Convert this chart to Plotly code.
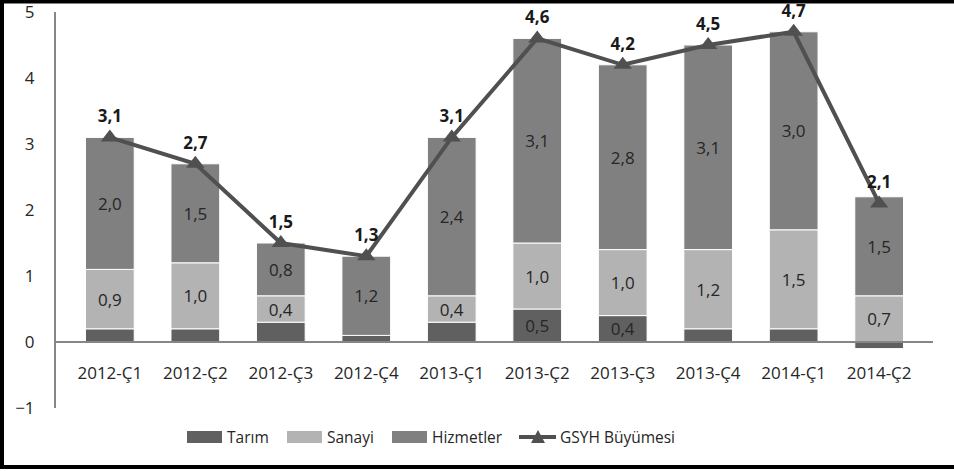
import plotly.graph_objects as go

categories = ["2012-Ç1", "2012-Ç2", "2012-Ç3", "2012-Ç4", "2013-Ç1",
              "2013-Ç2", "2013-Ç3", "2013-Ç4", "2014-Ç1", "2014-Ç2"]
tarim = [0.2, 0.2, 0.3, 0.1, 0.3, 0.5, 0.4, 0.2, 0.2, -0.1]
sanayi = [0.9, 1.0, 0.4, 0.0, 0.4, 1.0, 1.0, 1.2, 1.5, 0.7]
hizmetler = [2.0, 1.5, 0.8, 1.2, 2.4, 3.1, 2.8, 3.1, 3.0, 1.5]
gsyh = [3.1, 2.7, 1.5, 1.3, 3.1, 4.6, 4.2, 4.5, 4.7, 2.1]
y_ticks = [-1, 0, 1, 2, 3, 4, 5]

series_names = ["Tarım", "Sanayi", "Hizmetler", "GSYH Büyümesi"]
series_colors = ["#606060", "#b3b3b3", "#808080", "#505050"]

FONT = "Open Sans"
TXT = "#262626"

# plot area in pixels (for converting layout positions to paper coords)
L, R, T, B = 56, 933, 12, 408


def px(x):
    return (x - L) / (R - L)


def py(y):
    return (B - y) / (B - T)


def fmt(v):
    return f"{v:.1f}".replace(".", ",")


def seg_labels(vals, min_abs=0.35):
    return [fmt(v) if abs(v) >= min_abs else "" for v in vals]


fig = go.Figure()
for name, vals, color in zip(series_names[:3], [tarim, sanayi, hizmetler],
                             series_colors[:3]):
    fig.add_trace(go.Bar(
        name=name, x=categories, y=vals, marker_color=color,
        marker_line_color="white", marker_line_width=1,
        text=seg_labels(vals), textposition="inside",
        insidetextanchor="middle", textangle=0,
        textfont=dict(family=FONT, size=17, color=TXT),
        hoverinfo="skip", showlegend=False,
    ))

fig.add_trace(go.Scatter(
    name=series_names[3], x=categories, y=gsyh,
    mode="lines+markers+text",
    line=dict(color=series_colors[3], width=4),
    marker=dict(symbol="triangle-up", size=16, color=series_colors[3]),
    text=[fmt(v) for v in gsyh], texttemplate="<b>%{text}</b>",
    textposition="top center", cliponaxis=False,
    textfont=dict(family=FONT, size=17, color="#1a1a1a"),
    hoverinfo="skip", showlegend=False,
))

# custom legend (wide swatches like the original)
shapes = []
annotations = []
legend_y = 437
swatch_x = [187, 287, 392]
text_x = [225, 325, 430, 558]
for sx, col in zip(swatch_x, series_colors[:3]):
    shapes.append(dict(type="rect", xref="paper", yref="paper",
                       x0=px(sx), x1=px(sx + 35), y0=py(legend_y + 6),
                       y1=py(legend_y - 6), fillcolor=col, line_width=0))
shapes.append(dict(type="line", xref="paper", yref="paper",
                   x0=px(519), x1=px(556), y0=py(legend_y), y1=py(legend_y),
                   line=dict(color=series_colors[3], width=4)))
shapes.append(dict(type="path", xref="paper", yref="paper",
                   path=f"M {px(531)} {py(legend_y + 6)} L {px(545)} {py(legend_y + 6)} "
                        f"L {px(538)} {py(legend_y - 7)} Z",
                   fillcolor=series_colors[3], line_width=0))
for tx, name in zip(text_x, series_names):
    annotations.append(dict(xref="paper", yref="paper", x=px(tx), y=py(legend_y),
                            xanchor="left", yanchor="middle", text=name,
                            showarrow=False,
                            font=dict(family=FONT, size=15.5, color=TXT)))

# outer frame
shapes.append(dict(type="rect", xref="paper", yref="paper",
                   x0=px(2), x1=1.5, y0=py(467), y1=py(1.5),
                   line=dict(color="black", width=4), layer="above"))

fig.update_layout(
    width=954, height=471,
    margin=dict(l=L, r=954 - R, t=T, b=471 - B, autoexpand=False),
    paper_bgcolor="white", plot_bgcolor="white",
    barmode="relative", bargap=0.43,
    font=dict(family=FONT, size=17, color=TXT),
    uniformtext=dict(mode="show", minsize=17),
    showlegend=False,
    xaxis=dict(anchor="free", position=1/6, showline=True,
               linecolor="#868686", linewidth=2, showgrid=False,
               ticks="outside", ticklen=16, tickcolor="rgba(0,0,0,0)",
               tickfont=dict(family=FONT, size=17, color=TXT)),
    yaxis=dict(range=[-1, 5], tickvals=y_ticks, showgrid=False,
               zeroline=False, showline=True, linecolor="#868686",
               linewidth=2, ticks="", ticklabelstandoff=16,
               ticklabeloverflow="allow",
               tickfont=dict(family=FONT, size=17, color=TXT)),
    shapes=shapes,
    annotations=annotations,
)

fig.write_html("out.html", config={"displayModeBar": False},
               post_script="document.body.style.margin='0';"
                           "document.body.style.overflow='hidden';")
